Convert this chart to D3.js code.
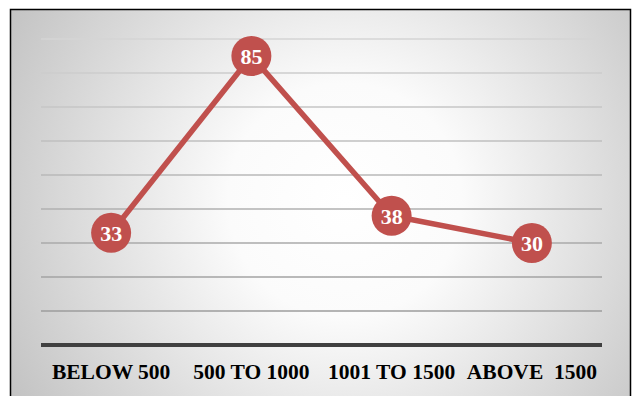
<!DOCTYPE html>
<html>
<head>
<meta charset="utf-8">
<script src="https://cdn.jsdelivr.net/npm/d3@7"></script>
<style>
  html, body { margin: 0; padding: 0; background: #ffffff; }
  svg { display: block; }
</style>
</head>
<body>
<svg id="chart" width="634" height="396"></svg>
<script>
// Monthly income bands and respondent counts
const categories = ["BELOW 500", "500 TO 1000", "1001 TO 1500", "ABOVE  1500"];
const values = [33, 85, 38, 30];
const gridTicks = [10, 20, 30, 40, 50, 60, 70, 80, 90];

const W = 634, H = 396;
const plot = { left: 41, right: 602, top: 39, bottom: 345 };
const lineColor = "#c0504d";

const svg = d3.select("#chart");
const defs = svg.append("defs");

const bg = defs.append("radialGradient")
  .attr("id", "bgGrad")
  .attr("gradientUnits", "userSpaceOnUse")
  .attr("cx", 345).attr("cy", 200).attr("r", 390);
bg.append("stop").attr("offset", "0").attr("stop-color", "#ffffff");
bg.append("stop").attr("offset", "0.3").attr("stop-color", "#fbfbfb");
bg.append("stop").attr("offset", "1").attr("stop-color", "#c2c2c2");

// Chart frame with soft radial shading
svg.append("rect")
  .attr("x", 10.5).attr("y", 9.5)
  .attr("width", 620).attr("height", 400)
  .attr("fill", "url(#bgGrad)")
  .attr("stroke", "#000000")
  .attr("stroke-width", 1.5);

const x = d3.scaleBand()
  .domain(categories)
  .range([plot.left, plot.right])
  .paddingInner(0).paddingOuter(0);

const y = d3.scaleLinear()
  .domain([0, 90])
  .range([plot.bottom, plot.top]);

// Horizontal gridlines, fading lighter toward the top
const gridShade = d3.scaleLinear().domain([10, 90]).range(["#9c9c9c", "#d4d4d4"]);
svg.append("g")
  .selectAll("line")
  .data(gridTicks)
  .join("line")
  .attr("x1", plot.left).attr("x2", plot.right)
  .attr("y1", d => y(d)).attr("y2", d => y(d))
  .attr("stroke", d => gridShade(d))
  .attr("stroke-width", 1.5);

// Category axis
const xAxis = svg.append("g")
  .attr("transform", `translate(0,${y(0)})`)
  .call(d3.axisBottom(x).tickSize(0).tickPadding(19));
xAxis.select(".domain")
  .attr("stroke", "#404040")
  .attr("stroke-width", 4)
  .attr("d", `M${plot.left},0H${plot.right}`);
xAxis.selectAll("text")
  .attr("fill", "#000000")
  .style("font-family", "'Liberation Serif', 'Times New Roman', serif")
  .style("font-weight", "bold")
  .style("font-size", "21.5px")
  .style("white-space", "pre")
  .attr("xml:space", "preserve");

const cx = d => x(d) + x.bandwidth() / 2;
const data = categories.map((c, i) => ({ c, v: values[i] }));

// Series line
svg.append("path")
  .datum(data)
  .attr("fill", "none")
  .attr("stroke", lineColor)
  .attr("stroke-width", 5.5)
  .attr("stroke-linejoin", "round")
  .attr("d", d3.line().x(d => cx(d.c)).y(d => y(d.v)));

// Value markers with labels
const pts = svg.append("g").selectAll("g")
  .data(data)
  .join("g")
  .attr("transform", d => `translate(${cx(d.c)},${y(d.v)})`);
pts.append("circle")
  .attr("r", 20)
  .attr("fill", lineColor);
pts.append("text")
  .attr("text-anchor", "middle")
  .attr("dy", "0.35em")
  .attr("fill", "#ffffff")
  .style("font-family", "'Liberation Serif', 'Times New Roman', serif")
  .style("font-weight", "bold")
  .style("font-size", "22px")
  .text(d => d.v);
</script>
</body>
</html>
